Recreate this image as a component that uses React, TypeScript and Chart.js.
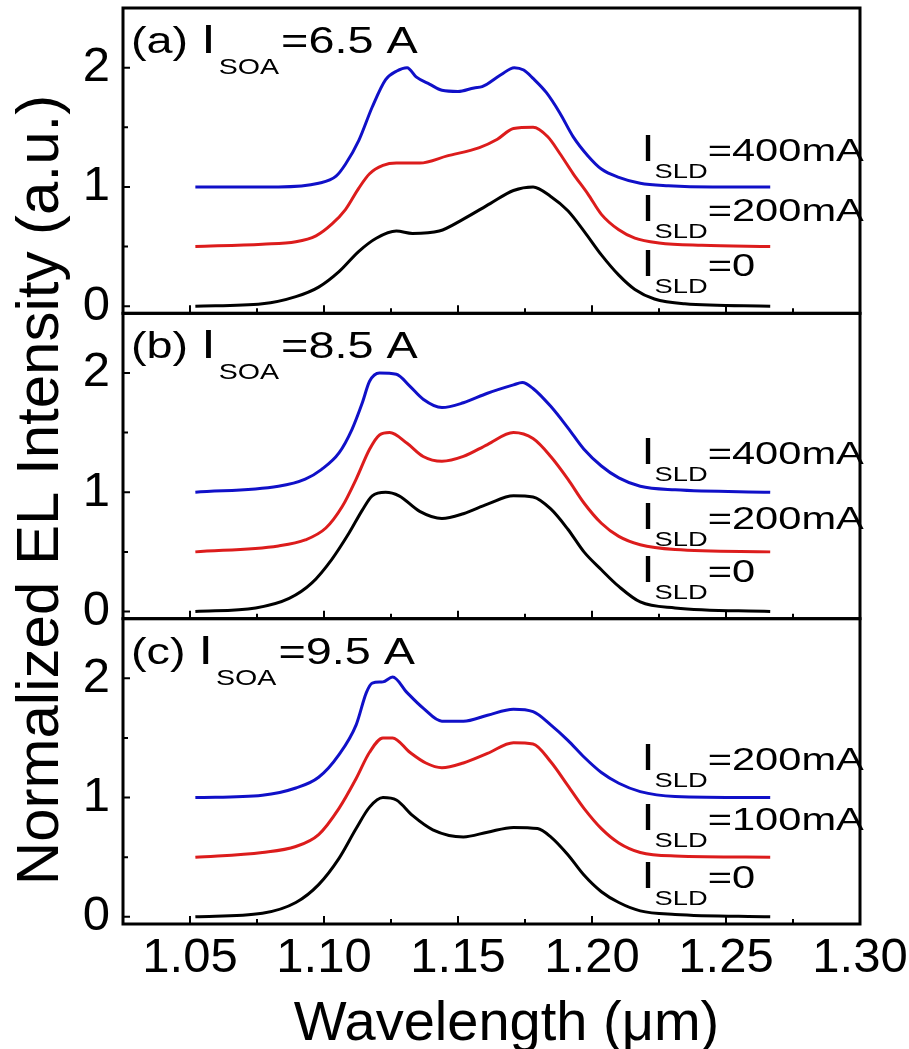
import { useEffect, useRef } from 'react'
import { Chart, registerables } from 'chart.js'

Chart.register(...registerables)

// x axis (wavelength, µm)
const xTicks = [1.05, 1.1, 1.15, 1.2, 1.25, 1.3]
const xMinorTicks = [1.075, 1.125, 1.175, 1.225, 1.275]
const yTicks = [0, 1, 2]
const yMinorTicks = [0.5, 1.5]

// panel texts
const panelTags = ['(a)', '(b)', '(c)']
const soaCurrents = ['6.5', '8.5', '9.5']
const sldLabels = [
  ['400mA', '200mA', '0'],
  ['400mA', '200mA', '0'],
  ['200mA', '100mA', '0'],
]
const sldLabelY = [
  [1.22, 0.71, 0.25],
  [1.24, 0.69, 0.25],
  [1.23, 0.73, 0.24],
]

// (a) I_SOA = 6.5 A
const aHigh = [[1.052, 1.0], [1.083, 1.0], [1.098, 1.03], [1.1045, 1.09], [1.108, 1.19], [1.113, 1.39], [1.118, 1.67], [1.123, 1.9], [1.127, 1.97], [1.131, 2.0], [1.1345, 1.92], [1.1395, 1.86], [1.144, 1.81], [1.15, 1.8], [1.156, 1.83], [1.159, 1.84], [1.166, 1.94], [1.171, 2.0], [1.1745, 1.98], [1.178, 1.91], [1.183, 1.79], [1.188, 1.62], [1.193, 1.42], [1.1985, 1.26], [1.2035, 1.15], [1.21, 1.08], [1.218, 1.03], [1.2285, 1.01], [1.245, 1.0], [1.2665, 1.0]]
const aMid = [[1.052, 0.5], [1.077, 0.52], [1.0895, 0.54], [1.097, 0.59], [1.103, 0.69], [1.108, 0.81], [1.113, 0.99], [1.117, 1.11], [1.122, 1.18], [1.127, 1.2], [1.1357, 1.2], [1.146, 1.26], [1.158, 1.33], [1.1647, 1.4], [1.1707, 1.49], [1.178, 1.5], [1.1835, 1.42], [1.188, 1.28], [1.193, 1.11], [1.1985, 0.94], [1.2035, 0.77], [1.21, 0.64], [1.216, 0.57], [1.225, 0.53], [1.241, 0.51], [1.2665, 0.5]]
const aLow = [[1.052, 0.0], [1.077, 0.02], [1.0895, 0.08], [1.098, 0.16], [1.1056, 0.29], [1.113, 0.46], [1.1195, 0.57], [1.127, 0.63], [1.133, 0.61], [1.143, 0.63], [1.152, 0.73], [1.162, 0.86], [1.1707, 0.97], [1.178, 1.0], [1.1846, 0.92], [1.191, 0.8], [1.197, 0.63], [1.2035, 0.43], [1.21, 0.26], [1.216, 0.14], [1.2233, 0.06], [1.2346, 0.02], [1.2665, 0.0]]

// (b) I_SOA = 8.5 A
const bHigh = [[1.052, 1.0], [1.083, 1.05], [1.093, 1.11], [1.099, 1.19], [1.1056, 1.33], [1.1105, 1.53], [1.1143, 1.75], [1.117, 1.93], [1.1207, 2.0], [1.127, 1.99], [1.132, 1.89], [1.137, 1.78], [1.144, 1.71], [1.152, 1.75], [1.161, 1.83], [1.1707, 1.9], [1.174, 1.92], [1.178, 1.87], [1.1846, 1.72], [1.191, 1.54], [1.197, 1.36], [1.2035, 1.22], [1.21, 1.12], [1.218, 1.05], [1.231, 1.02], [1.2665, 1.0]]
const bMid = [[1.052, 0.5], [1.083, 0.55], [1.093, 0.6], [1.1007, 0.7], [1.1068, 0.88], [1.112, 1.11], [1.117, 1.36], [1.1207, 1.48], [1.1245, 1.5], [1.131, 1.41], [1.137, 1.3], [1.144, 1.26], [1.152, 1.3], [1.161, 1.4], [1.1707, 1.5], [1.178, 1.45], [1.1846, 1.3], [1.191, 1.11], [1.197, 0.91], [1.2035, 0.74], [1.21, 0.63], [1.218, 0.56], [1.231, 0.52], [1.2665, 0.5]]
const bLow = [[1.052, 0.0], [1.0745, 0.03], [1.087, 0.11], [1.0955, 0.24], [1.103, 0.44], [1.1094, 0.66], [1.1143, 0.85], [1.118, 0.97], [1.123, 1.0], [1.128, 0.97], [1.1357, 0.84], [1.144, 0.78], [1.152, 0.82], [1.161, 0.9], [1.1707, 0.97], [1.178, 0.96], [1.1846, 0.86], [1.191, 0.69], [1.197, 0.5], [1.2035, 0.35], [1.21, 0.21], [1.218, 0.08], [1.231, 0.03], [1.2665, 0.0]]

// (c) I_SOA = 9.5 A
const cHigh = [[1.052, 1.0], [1.077, 1.02], [1.0895, 1.08], [1.098, 1.17], [1.1056, 1.36], [1.112, 1.61], [1.1158, 1.88], [1.118, 1.96], [1.122, 1.97], [1.1256, 2.01], [1.131, 1.88], [1.137, 1.75], [1.144, 1.64], [1.152, 1.64], [1.161, 1.69], [1.1707, 1.74], [1.178, 1.72], [1.1846, 1.61], [1.191, 1.48], [1.197, 1.34], [1.2035, 1.21], [1.21, 1.12], [1.218, 1.05], [1.231, 1.01], [1.2665, 1.0]]
const cMid = [[1.052, 0.5], [1.077, 0.54], [1.0895, 0.59], [1.098, 0.69], [1.1056, 0.91], [1.112, 1.16], [1.117, 1.38], [1.122, 1.5], [1.1256, 1.5], [1.132, 1.38], [1.138, 1.29], [1.144, 1.25], [1.152, 1.29], [1.161, 1.37], [1.1707, 1.46], [1.178, 1.45], [1.1846, 1.3], [1.191, 1.1], [1.197, 0.91], [1.2035, 0.74], [1.21, 0.62], [1.218, 0.54], [1.231, 0.51], [1.2665, 0.5]]
const cLow = [[1.052, 0.0], [1.077, 0.03], [1.0895, 0.12], [1.098, 0.27], [1.1056, 0.49], [1.112, 0.74], [1.117, 0.92], [1.122, 1.0], [1.127, 0.98], [1.133, 0.85], [1.1406, 0.73], [1.152, 0.67], [1.161, 0.71], [1.1707, 0.75], [1.1797, 0.74], [1.1846, 0.67], [1.191, 0.52], [1.197, 0.35], [1.2035, 0.21], [1.21, 0.12], [1.218, 0.05], [1.231, 0.02], [1.2665, 0.0]]

const panelAxes = ['yA', 'yB', 'yC']
const panelSeries = [
  [aHigh, aMid, aLow],
  [bHigh, bMid, bLow],
  [cHigh, cMid, cLow],
]
const lineColors = ['#1010c8', '#dc1c1c', '#000000']

const FONT = '"Liberation Sans", Arial, sans-serif'

// 畫橫向拉寬的文字，回傳寬度
function drawWide(ctx: CanvasRenderingContext2D, text: string, x: number, y: number, size: number, sx = 1.3) {
  ctx.save()
  ctx.font = `${size}px ${FONT}`
  const w = ctx.measureText(text).width * sx
  ctx.translate(x, y)
  ctx.scale(sx, 1)
  ctx.fillText(text, 0, 0)
  ctx.restore()
  return w
}

const panelDecor = {
  id: 'panelDecor',
  afterDatasetsDraw(chart: any) {
    const { ctx, chartArea, scales } = chart
    const xs = scales.x
    ctx.save()
    ctx.fillStyle = '#000'
    ctx.strokeStyle = '#000'
    ctx.textAlign = 'left'
    ctx.textBaseline = 'alphabetic'

    panelAxes.forEach((id, i) => {
      const ys = scales[id]
      // 邊框
      ctx.lineWidth = 3
      ctx.strokeRect(chartArea.left, ys.top, chartArea.right - chartArea.left, ys.bottom - ys.top)

      // 向內刻度
      ctx.lineWidth = 2
      ctx.beginPath()
      xTicks.forEach((v) => {
        const px = xs.getPixelForValue(v)
        ctx.moveTo(px, ys.bottom)
        ctx.lineTo(px, ys.bottom - 8)
      })
      xMinorTicks.forEach((v) => {
        const px = xs.getPixelForValue(v)
        ctx.moveTo(px, ys.bottom)
        ctx.lineTo(px, ys.bottom - 5)
      })
      yTicks.forEach((v) => {
        const py = ys.getPixelForValue(v)
        ctx.moveTo(chartArea.left, py)
        ctx.lineTo(chartArea.left + 7, py)
      })
      yMinorTicks.forEach((v) => {
        const py = ys.getPixelForValue(v)
        ctx.moveTo(chartArea.left, py)
        ctx.lineTo(chartArea.left + 5, py)
      })
      ctx.stroke()

      // 面板標題
      let tx = chartArea.left + 8
      const ty = ys.top + 45
      tx += drawWide(ctx, panelTags[i] + ' ', tx, ty, 36)
      tx += drawWide(ctx, 'I', tx, ty, 40) + 3
      tx += drawWide(ctx, 'SOA', tx, ty + 21, 22) + 2
      drawWide(ctx, '=' + soaCurrents[i] + ' A', tx, ty, 36)

      // I_SLD 標籤
      sldLabels[i].forEach((label, j) => {
        let lx = xs.getPixelForValue(1.2185)
        const ly = ys.getPixelForValue(sldLabelY[i][j])
        lx += drawWide(ctx, 'I', lx, ly, 36)
        lx += drawWide(ctx, 'SLD', lx, ly + 17, 21)
        drawWide(ctx, '=' + label, lx, ly, 32)
      })
    })

    // 軸標題
    ctx.font = `60px ${FONT}`
    ctx.textAlign = 'center'
    ctx.save()
    ctx.translate(58, (chartArea.top + chartArea.bottom) / 2 + 24)
    ctx.rotate(-Math.PI / 2)
    ctx.fillText('Normalized EL Intensity (a.u.)', 0, 0)
    ctx.restore()

    ctx.font = `56px ${FONT}`
    ctx.fillText('Wavelength (μm)', (chartArea.left + chartArea.right) / 2 + 15, 1040)
    ctx.restore()
  },
}

function yAxis() {
  return {
    type: 'linear' as const,
    position: 'left' as const,
    stack: 'panels',
    stackWeight: 1,
    min: -0.06,
    max: 2.5,
    grid: { display: false, drawTicks: false },
    border: { display: false },
    afterBuildTicks: (scale: any) => {
      scale.ticks = yTicks.map((value) => ({ value }))
    },
    afterFit: (scale: any) => {
      scale.width = 40
      scale.paddingTop = 0
      scale.paddingBottom = 0
    },
    ticks: {
      color: '#000',
      padding: 13,
      font: { family: FONT, size: 49 },
      callback: (v: any) => String(v),
    },
  }
}

export default function App() {
  const chartRef = useRef<HTMLCanvasElement>(null)
  const chartInstance = useRef<Chart | null>(null)

  useEffect(() => {
    if (!chartRef.current) return
    if (chartInstance.current) {
      chartInstance.current.destroy()
    }
    const ctx = chartRef.current.getContext('2d')
    if (!ctx) return

    const datasets: any[] = []
    panelSeries.forEach((group, i) => {
      group.forEach((series, j) => {
        datasets.push({
          data: series.map(([x, y]) => ({ x, y })),
          yAxisID: panelAxes[i],
          borderColor: lineColors[j],
          borderWidth: 3,
          pointRadius: 0,
          cubicInterpolationMode: 'monotone',
          fill: false,
        })
      })
    })

    chartInstance.current = new Chart(ctx, {
      type: 'line',
      data: { datasets },
      options: {
        responsive: false,
        animation: false,
        events: [],
        layout: { padding: { left: 83, right: 49, top: 8, bottom: 61 } },
        plugins: {
          legend: { display: false },
          tooltip: { enabled: false },
        },
        scales: {
          x: {
            type: 'linear',
            min: 1.025,
            max: 1.3,
            grid: { display: false, drawTicks: false },
            border: { display: false },
            afterBuildTicks: (scale: any) => {
              scale.ticks = xTicks.map((value) => ({ value }))
            },
            afterFit: (scale: any) => {
              scale.height = 64
              scale.paddingLeft = 0
              scale.paddingRight = 0
            },
            ticks: {
              color: '#000',
              padding: 5,
              autoSkip: false,
              maxRotation: 0,
              font: { family: FONT, size: 49 },
              callback: (v: any) => Number(v).toFixed(2),
            },
          },
          // 後定義的放在上面
          yC: yAxis(),
          yB: yAxis(),
          yA: yAxis(),
        } as any,
      },
      plugins: [panelDecor],
    })

    return () => {
      if (chartInstance.current) {
        chartInstance.current.destroy()
        chartInstance.current = null
      }
    }
  }, [])

  return (
    <div style={{ position: 'absolute', left: 0, top: 0, width: 909, height: 1049, background: '#fff' }}>
      <canvas ref={chartRef} width={909} height={1049} />
    </div>
  )
}
